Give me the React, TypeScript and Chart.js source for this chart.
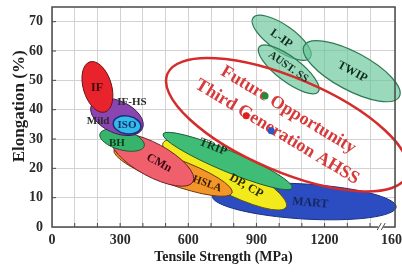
import React, { useEffect, useRef } from 'react';
import { Chart, registerables } from 'chart.js';

Chart.register(...registerables);

// ---- Data (tensile strength in MPa, elongation in %) ----
// Each steel family is an elongated region whose long axis runs
// from (tsFrom, elFrom) to (tsTo, elTo); spread = minor / major axis.
const bandNames = ['MART', 'DP, CP', 'TRIP', 'HSLA', 'CMn', 'BH', 'Mild', 'ISO', 'IF', 'L-IP', 'AUST. SS', 'TWIP', 'AHSS3'];
const tsFrom = [705, 489, 489, 273, 264, 211, 174, 270, 167, 885, 912, 1110, 508];
const elFrom = [10.6, 28.7, 31.7, 26.3, 30.4, 31.7, 41.6, 35.6, 56.3, 71.3, 61.4, 61.8, 52.2];
const tsTo = [1515, 1031, 1057, 793, 621, 406, 398, 391, 233, 1137, 1172, 1529, 1563];
const elTo = [6.8, 6.8, 13.3, 11.6, 15.4, 27.6, 33.5, 34.0, 39.2, 57.7, 46.1, 44.4, 17.5];
const spread = [0.19, 0.23, 0.15, 0.21, 0.36, 0.43, 0.57, 0.64, 0.54, 0.37, 0.33, 0.35, 0.36];

// Text labels anchored in data units
const labelTexts = ['IF', 'IF-HS', 'Mild', 'ISO', 'BH', 'CMn', 'HSLA', 'TRIP', 'DP, CP', 'MART', 'L-IP', 'AUST. SS', 'TWIP'];
const labelTS = [198, 352, 203, 330, 286, 471, 683, 709, 855, 1137, 1009, 1040, 1322];
const labelEl = [47.4, 42.7, 36.2, 34.8, 28.7, 21.8, 14.7, 27.3, 14.0, 8.2, 64.2, 54.6, 52.9];

const noteTexts = ['Future Opportunity', 'Third Generation AHSS'];
const noteTS = [1040, 991];
const noteEl = [39.9, 32.4];

// Third-generation AHSS target points
const dotTS = [938, 855, 965];
const dotEl = [44.7, 37.9, 32.8];

// Axis ticks
const xLabelValues = [0, 300, 600, 900, 1200, 1510];
const xLabelTexts = ['0', '300', '600', '900', '1200', '1600'];
const X_MAX = 1510;
const Y_MAX = 75;

// ---- Styles ----
const bandStyle: Record<string, { fill: string | null; stroke: string; lw: number }> = {
  'MART': { fill: '#2c4dc2', stroke: '#1b2f7a', lw: 1 },
  'TRIP': { fill: '#3fbd76', stroke: '#1d5a36', lw: 1 },
  'DP, CP': { fill: '#f3ea1e', stroke: '#5a5510', lw: 1 },
  'HSLA': { fill: '#f2962a', stroke: '#6a3a0a', lw: 1 },
  'CMn': { fill: '#ef5f6c', stroke: '#6a2228', lw: 1 },
  'BH': { fill: '#37b46c', stroke: '#1d5a36', lw: 1 },
  'Mild': { fill: '#8a45b2', stroke: '#3d1a55', lw: 1 },
  'ISO': { fill: '#33b9ea', stroke: '#172f7a', lw: 1.5 },
  'IF': { fill: '#e8232b', stroke: '#6e1010', lw: 1 },
  'L-IP': { fill: 'rgba(100,196,150,0.65)', stroke: '#2f7a55', lw: 1.2 },
  'AUST. SS': { fill: 'rgba(100,196,150,0.65)', stroke: '#2f7a55', lw: 1.2 },
  'TWIP': { fill: 'rgba(100,196,150,0.65)', stroke: '#2f7a55', lw: 1.2 },
  'AHSS3': { fill: null, stroke: '#d42b2b', lw: 2.5 },
};

const labelStyle: Record<string, { color: string; angle: number; size: number }> = {
  'IF': { color: '#3b0a0a', angle: 0, size: 12 },
  'IF-HS': { color: '#2b2b2b', angle: 0, size: 11 },
  'Mild': { color: '#2b2b2b', angle: 0, size: 11 },
  'ISO': { color: '#17306e', angle: 0, size: 11 },
  'BH': { color: '#0f3a1e', angle: 0, size: 11 },
  'CMn': { color: '#3a0a14', angle: 28, size: 12 },
  'HSLA': { color: '#3a1a00', angle: 20, size: 11 },
  'TRIP': { color: '#0b3b1c', angle: 22, size: 12 },
  'DP, CP': { color: '#2c2a00', angle: 30, size: 12 },
  'MART': { color: '#15275e', angle: 5, size: 12 },
  'L-IP': { color: '#0f2e20', angle: 35, size: 12 },
  'AUST. SS': { color: '#0f2e20', angle: 35, size: 11 },
  'TWIP': { color: '#0f2e20', angle: 28, size: 12 },
};

const dotColors = ['#1e8c3a', '#e0201c', '#2a56c8'];
const FONT = "'Liberation Serif', 'Times New Roman', serif";

const bandsPlugin = {
  id: 'bands',
  beforeDatasetsDraw(chart: any) {
    const { ctx, scales } = chart;
    const x = scales.x;
    const y = scales.y;
    bandNames.forEach((name, i) => {
      const x1 = x.getPixelForValue(tsFrom[i]);
      const y1 = y.getPixelForValue(elFrom[i]);
      const x2 = x.getPixelForValue(tsTo[i]);
      const y2 = y.getPixelForValue(elTo[i]);
      const cx = (x1 + x2) / 2;
      const cy = (y1 + y2) / 2;
      const a = Math.hypot(x2 - x1, y2 - y1) / 2;
      const b = a * spread[i];
      const rot = Math.atan2(y2 - y1, x2 - x1);
      const st = bandStyle[name];
      ctx.save();
      ctx.beginPath();
      ctx.ellipse(cx, cy, a, b, rot, 0, Math.PI * 2);
      if (st.fill) {
        ctx.fillStyle = st.fill;
        ctx.fill();
      }
      ctx.lineWidth = st.lw;
      ctx.strokeStyle = st.stroke;
      ctx.stroke();
      ctx.restore();
    });

    labelTexts.forEach((t, i) => {
      const st = labelStyle[t];
      ctx.save();
      ctx.translate(x.getPixelForValue(labelTS[i]), y.getPixelForValue(labelEl[i]));
      ctx.rotate((st.angle * Math.PI) / 180);
      ctx.font = `bold ${st.size}px ${FONT}`;
      ctx.fillStyle = st.color;
      ctx.textAlign = 'center';
      ctx.textBaseline = 'middle';
      ctx.fillText(t, 0, 0);
      ctx.restore();
    });

    noteTexts.forEach((t, i) => {
      ctx.save();
      ctx.translate(x.getPixelForValue(noteTS[i]), y.getPixelForValue(noteEl[i]));
      ctx.rotate((31 * Math.PI) / 180);
      ctx.font = `bold 18px ${FONT}`;
      ctx.fillStyle = '#d63a3a';
      ctx.textAlign = 'center';
      ctx.textBaseline = 'middle';
      ctx.fillText(t, 0, 0);
      ctx.restore();
    });
  },
  afterDraw(chart: any) {
    const { ctx, chartArea, scales } = chart;
    const x = scales.x;
    const y = scales.y;
    ctx.save();
    ctx.strokeStyle = '#4a4a4a';
    ctx.lineWidth = 1.5;
    ctx.strokeRect(chartArea.left, chartArea.top, chartArea.right - chartArea.left, chartArea.bottom - chartArea.top);
    ctx.lineWidth = 1;
    ctx.beginPath();
    for (let v = 100; v <= 1400; v += 100) {
      const px = x.getPixelForValue(v);
      ctx.moveTo(px, chartArea.bottom);
      ctx.lineTo(px, chartArea.bottom - 4);
    }
    for (let v = 10; v < Y_MAX; v += 10) {
      const py = y.getPixelForValue(v);
      ctx.moveTo(chartArea.left, py);
      ctx.lineTo(chartArea.left + 4, py);
    }
    ctx.stroke();
    // axis break marks
    const bx = x.getPixelForValue(1445);
    ctx.fillStyle = '#ffffff';
    ctx.fillRect(bx - 2, chartArea.bottom - 2, 5, 4);
    ctx.beginPath();
    ctx.moveTo(bx - 3, chartArea.bottom + 3);
    ctx.lineTo(bx + 1, chartArea.bottom - 4);
    ctx.moveTo(bx + 1, chartArea.bottom + 3);
    ctx.lineTo(bx + 5, chartArea.bottom - 4);
    ctx.stroke();
    ctx.restore();
  },
};

export default function App() {
  const ref = useRef<HTMLCanvasElement>(null);

  useEffect(() => {
    const canvas = ref.current;
    if (!canvas) return;
    const chart = new Chart(canvas, {
      type: 'scatter',
      data: {
        datasets: [
          {
            label: 'Third generation AHSS',
            data: dotTS.map((t, i) => ({ x: t, y: dotEl[i] })),
            pointBackgroundColor: dotColors,
            pointBorderWidth: 0,
            pointRadius: 3.5,
          },
        ],
      },
      options: {
        responsive: false,
        animation: false,
        events: [],
        layout: { padding: { top: 7, right: 7, left: 0, bottom: 0 } },
        plugins: {
          legend: { display: false },
          tooltip: { enabled: false },
        },
        scales: {
          x: {
            type: 'linear',
            min: 0,
            max: X_MAX,
            afterBuildTicks: (s: any) => {
              const t = [];
              for (let v = 0; v <= 1400; v += 100) t.push({ value: v });
              t.push({ value: X_MAX });
              s.ticks = t;
            },
            afterFit: (s: any) => {
              s.height = 48;
              s.paddingLeft = 0;
              s.paddingRight = 0;
            },
            grid: { color: '#d2d2d2', lineWidth: 1, drawTicks: false },
            border: { display: false },
            ticks: {
              autoSkip: false,
              maxRotation: 0,
              padding: 5,
              color: '#2a2a2a',
              font: { family: FONT, size: 14, weight: 'bold' },
              callback: (v: any) => {
                const k = xLabelValues.indexOf(Number(v));
                return k >= 0 ? xLabelTexts[k] : '';
              },
            },
            title: {
              display: true,
              text: 'Tensile Strength (MPa)',
              color: '#1e1e1e',
              font: { family: FONT, size: 14, weight: 'bold' },
              padding: { top: 0, bottom: 9 },
            },
          },
          y: {
            type: 'linear',
            min: 0,
            max: Y_MAX,
            afterFit: (s: any) => {
              s.width = 52;
              s.paddingTop = 0;
              s.paddingBottom = 0;
            },
            grid: { color: '#d2d2d2', lineWidth: 1, drawTicks: false },
            border: { display: false },
            ticks: {
              stepSize: 5,
              padding: 9,
              color: '#2a2a2a',
              font: { family: FONT, size: 14, weight: 'bold' },
              callback: (v: any) => (Number(v) % 10 === 0 ? String(v) : ''),
            },
            title: {
              display: true,
              text: '     Elongation (%)',
              color: '#1e1e1e',
              font: { family: FONT, size: 17, weight: 'bold' },
              padding: { top: 9, bottom: 0 },
            },
          },
        },
      } as any,
      plugins: [bandsPlugin],
    });
    return () => chart.destroy();
  }, []);

  return (
    <div style={{ position: 'fixed', left: 0, top: 0, width: 402, height: 275, background: '#ffffff' }}>
      <canvas ref={ref} width={402} height={275} style={{ display: 'block', width: 402, height: 275 }} />
    </div>
  );
}
